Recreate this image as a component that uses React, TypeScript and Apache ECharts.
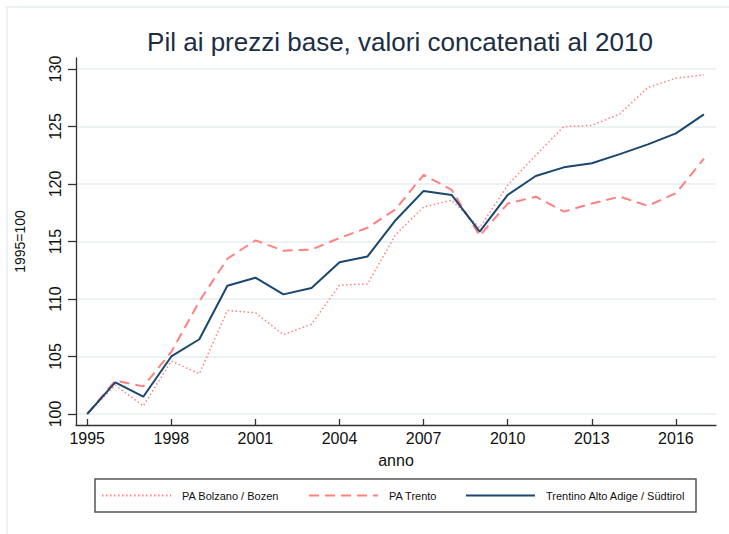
import React, { useEffect, useRef } from "react";
import * as echarts from "echarts";

const years = [1995, 1996, 1997, 1998, 1999, 2000, 2001, 2002, 2003, 2004, 2005, 2006, 2007, 2008, 2009, 2010, 2011, 2012, 2013, 2014, 2015, 2016, 2017];
const bolzano = [100, 102.5, 100.7, 104.6, 103.5, 109.0, 108.8, 106.9, 107.8, 111.2, 111.3, 115.6, 118.0, 118.6, 116.2, 119.9, 122.5, 125.0, 125.1, 126.1, 128.4, 129.2, 129.5];
const trento = [100, 102.9, 102.4, 105.4, 109.8, 113.5, 115.1, 114.2, 114.3, 115.3, 116.2, 117.8, 120.8, 119.5, 115.5, 118.3, 118.9, 117.6, 118.3, 118.9, 118.1, 119.2, 122.2];
const taa = [100, 102.75, 101.5, 105.0, 106.5, 111.15, 111.85, 110.4, 110.95, 113.2, 113.7, 116.85, 119.4, 119.05, 115.85, 119.05, 120.7, 121.45, 121.8, 122.6, 123.45, 124.4, 126.05];
const xTicks = [1995, 1998, 2001, 2004, 2007, 2010, 2013, 2016];
const yTicks = [100, 105, 110, 115, 120, 125, 130];
const seriesNames = ["PA Bolzano / Bozen", "PA Trento", "Trentino Alto Adige / Südtirol"];
const titleText = "Pil ai prezzi base, valori concatenati al 2010";

const FONT = "'Liberation Sans', Arial, sans-serif";
const PINK = "#ff8080";
const NAVY = "#1a476f";

export default function App() {
  const ref = useRef<HTMLDivElement>(null);
  useEffect(() => {
    if (!ref.current) return;
    const chart = echarts.init(ref.current, null, { renderer: "svg" });
    const pair = (arr: number[]) => years.map((y, i) => [y, arr[i]]);
    const legendBase = {
      orient: "horizontal",
      padding: 0,
      itemWidth: 69,
      itemHeight: 10,
      top: 490,
      itemStyle: { color: "transparent", borderColor: "transparent", borderWidth: 0, opacity: 0 },
      textStyle: { fontFamily: FONT, fontSize: 11, color: "#111", padding: [0, 0, 0, 6] },
    };
    chart.setOption({
      animation: false,
      backgroundColor: "#fff",
      textStyle: { fontFamily: FONT },
      grid: { left: 76, right: 13, top: 58, bottom: 109, containLabel: false },
      xAxis: {
        type: "value",
        min: 1994.6,
        max: 2017.43,
        name: "anno",
        nameLocation: "middle",
        nameGap: 27,
        nameTextStyle: { fontFamily: FONT, fontSize: 16, color: "#111" },
        axisLine: { show: true, onZero: false, lineStyle: { color: "#333", width: 1.3 } },
        axisTick: { show: true, inside: true, length: 6, customValues: xTicks, lineStyle: { color: "#333", width: 1.3 } },
        axisLabel: { customValues: xTicks, fontSize: 16, fontFamily: FONT, color: "#111", margin: 5, formatter: (v: number) => String(v) },
        splitLine: { show: false },
      },
      yAxis: {
        type: "value",
        min: 99.04,
        max: 130.96,
        name: "1995=100",
        nameLocation: "middle",
        nameRotate: 90,
        nameGap: 49,
        nameTextStyle: { fontFamily: FONT, fontSize: 14, color: "#111" },
        axisLine: { show: true, onZero: false, lineStyle: { color: "#333", width: 1.3 } },
        axisTick: { show: true, inside: false, length: 8, customValues: yTicks, lineStyle: { color: "#333", width: 1.3 } },
        axisLabel: { customValues: yTicks, rotate: 90, fontSize: 16, fontFamily: FONT, color: "#111", margin: 13, formatter: (v: number) => String(v) },
        splitLine: { show: true, lineStyle: { color: "#e6eef1", width: 1.5 } },
      },
      legend: [
        { ...legendBase, left: 101, data: [seriesNames[0]] },
        { ...legendBase, left: 308, data: [seriesNames[1]] },
        { ...legendBase, left: 465, data: [seriesNames[2]] },
      ],
      graphic: [
        { type: "rect", shape: { x: 7, y: 7, width: 800, height: 600 }, style: { fill: "none", stroke: "#e6eef1", lineWidth: 1.5 }, silent: true },
        { type: "rect", shape: { x: 95, y: 479, width: 601, height: 33 }, style: { fill: "none", stroke: "#555", lineWidth: 1.5 }, silent: true },
        { type: "text", x: 400, y: 42, style: { text: titleText, fontFamily: FONT, fontSize: 26, fill: "#1c2e44", textAlign: "center", textVerticalAlign: "middle" }, silent: true },
      ],
      series: [
        {
          name: seriesNames[0], type: "line", data: pair(bolzano), symbol: "none", z: 2,
          lineStyle: { color: PINK, width: 1.5, type: [1.5, 2.5] }, itemStyle: { color: PINK },
        },
        {
          name: seriesNames[1], type: "line", data: pair(trento), symbol: "none", z: 3,
          lineStyle: { color: PINK, width: 2, type: [10, 6] }, itemStyle: { color: PINK },
        },
        {
          name: seriesNames[2], type: "line", data: pair(taa), symbol: "none", z: 4,
          lineStyle: { color: NAVY, width: 2 }, itemStyle: { color: NAVY },
        },
      ],
    });
    return () => chart.dispose();
  }, []);
  return <div ref={ref} style={{ position: "fixed", left: 0, top: 0, width: 729, height: 534 }} />;
}
